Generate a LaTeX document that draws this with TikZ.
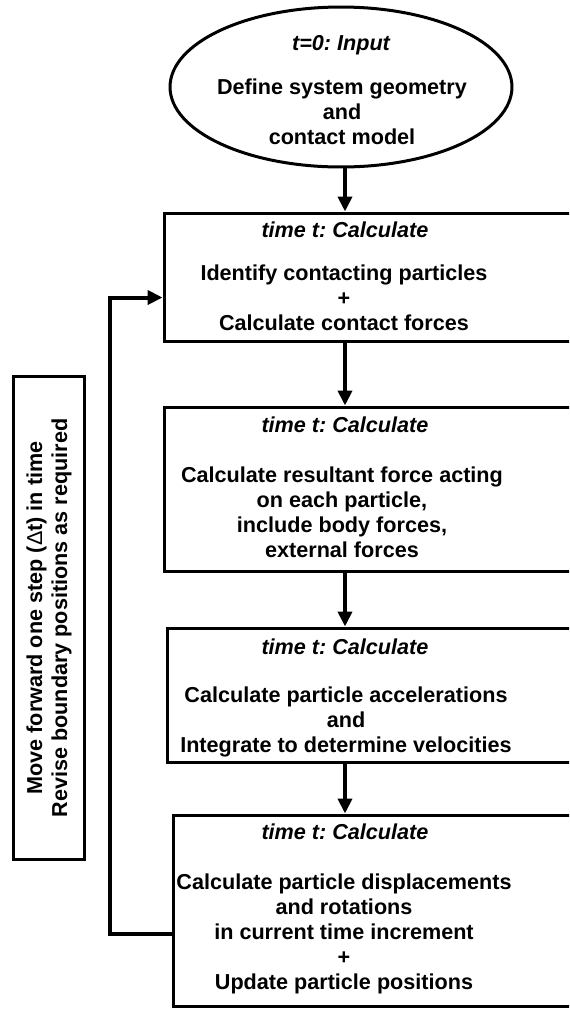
\documentclass[tikz,border=0pt]{standalone}
\usepackage{fontspec}
\setmainfont{Liberation Sans}
\usetikzlibrary{arrows.meta, shapes.geometric, positioning, calc}

\begin{document}
\frenchspacing
\begin{tikzpicture}[x=0.02cm, y=-0.02cm, >={Triangle[length=0.3cm, width=0.28cm]},
    box/.style={draw, line width=0.06cm, rectangle, inner sep=0pt},
    title/.style={font=\fontsize{12.3}{14.2}\selectfont\bfseries\itshape, inner sep=0pt},
    body/.style={font=\fontsize{12.3}{14.2}\selectfont\bfseries, align=center, inner sep=0pt},
    flow/.style={->, line width=0.08cm}]
      \path[use as bounding box] (0, 0) rectangle (569, 1009);
      \begin{scope}
      \clip (0, 0) rectangle (569, 1009);

      % input
      \node[draw, ellipse, line width=0.06cm, minimum width=6.84cm, minimum height=3.2cm, inner sep=0pt] (e) at (341, 87) {};
      \node[title] (t0) at (341, 45) {t=0: Input};
      \node[body] (c0) at (342, 112) {Define system geometry\\and\\contact model};

      % calculation steps
      \node[box, minimum width=10.72cm, minimum height=2.58cm] (b1) at (432, 277.5) {};
      \node[title] (t1) at (345, 230) {time t: Calculate};
      \node[body] (c1) at (344, 297.5) {Identify contacting particles\\+\\Calculate contact forces};

      \node[box, minimum width=10.72cm, minimum height=3.3cm] (b2) at (432, 489.5) {};
      \node[title] (t2) at (345, 425) {time t: Calculate};
      \node[body] (c2) at (342, 512.5) {Calculate resultant force acting\\on each particle,\\include body forces,\\external forces};

      \node[box, minimum width=10.66cm, minimum height=2.7cm] (b3) at (433.5, 695.5) {};
      \node[title] (t3) at (345, 647) {time t: Calculate};
      \node[body] (c3) at (346, 722) {Calculate particle accelerations\\and\\Integrate to determine velocities};

      \node[box, minimum width=10.54cm, minimum height=3.84cm] (b4) at (436.5, 911) {};
      \node[title] (t4) at (345, 832) {time t: Calculate};
      \node[body] (c4) at (344, 934) {Calculate particle displacements\\and rotations\\in current time increment\\+\\Update particle positions};

      % time step
      \node[box, body, rotate=90, minimum width=9.66cm, minimum height=1.44cm] (ts) at (49, 618)
        {Move forward one step ({\mdseries Δ}t) in time\\Revise boundary positions as required};

      \draw[flow] (t1 |- e.south) -- (t1 |- b1.north);
      \draw[flow] (t1 |- b1.south) -- (t2 |- b2.north);
      \draw[flow] (t2 |- b2.south) -- (t3 |- b3.north);
      \draw[flow] (t3 |- b3.south) -- (t4 |- b4.north);

      \coordinate (lp) at (110, 600);
      \draw[flow] (b4.west |- c4) -| (lp) |- (b1.west |- c1);
      \end{scope}

    \end{tikzpicture}
\end{document}
